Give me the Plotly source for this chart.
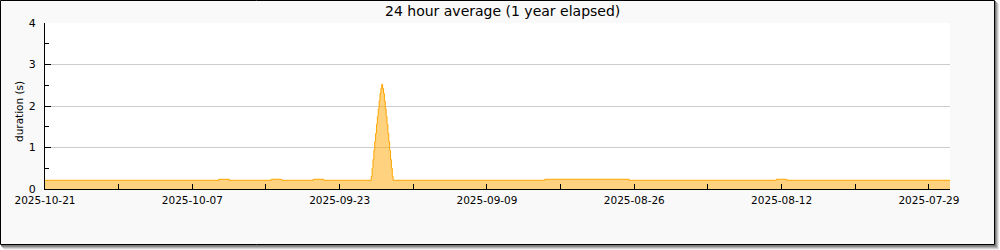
import plotly.graph_objects as go

# ---- data ----
times = [
    "2025-07-26 00:00",
    "2025-08-11 12:00", "2025-08-12 12:00",
    "2025-08-26 12:00", "2025-09-03 12:00",
    "2025-09-17 22:00", "2025-09-18 00:00", "2025-09-18 02:00", "2025-09-18 04:00",
    "2025-09-18 06:00", "2025-09-18 08:00", "2025-09-18 10:00", "2025-09-18 12:00",
    "2025-09-18 14:00", "2025-09-18 16:00", "2025-09-18 18:00", "2025-09-18 20:00",
    "2025-09-18 22:00",
    "2025-09-19 00:00", "2025-09-19 02:00", "2025-09-19 04:00", "2025-09-19 06:00",
    "2025-09-19 08:00", "2025-09-19 10:00", "2025-09-19 12:00", "2025-09-19 14:00",
    "2025-09-19 16:00", "2025-09-19 18:00", "2025-09-19 20:00", "2025-09-19 22:00",
    "2025-09-20 00:00",
    "2025-09-24 12:00", "2025-09-25 12:00",
    "2025-09-28 12:00", "2025-09-29 12:00",
    "2025-10-03 12:00", "2025-10-04 12:00",
    "2025-10-21 12:00",
]
durations = [
    0.21,
    0.235, 0.21,
    0.235, 0.21,
    0.30, 0.50, 0.71, 0.93,
    1.14, 1.34, 1.56, 1.75,
    1.93, 2.12, 2.30, 2.42,
    2.52,
    2.42, 2.30, 2.12, 1.93,
    1.75, 1.56, 1.34, 1.14,
    0.93, 0.71, 0.50, 0.30,
    0.21,
    0.235, 0.21,
    0.235, 0.21,
    0.235, 0.21,
    0.21,
]
x_range = ["2025-10-21", "2025-07-27"]
y_range = [0, 4]
title_text = "24 hour average (1 year elapsed)"
y_title = "duration (s)"

W, H = 1000, 250
ML, MR, MT, MB = 45, 50, 23, 61
PW, PH = W - ML - MR, H - MT - MB


def px_x(p):
    return (p - ML) / PW


def px_y(p):
    return (H - MB - p) / PH


DAY = 86400000
font = "DejaVu Sans"

fig = go.Figure()
fig.add_trace(go.Scatter(
    x=times, y=durations, mode="lines",
    line=dict(shape="hv", color="#ffa500", width=1),
    fill="tozeroy", fillcolor="rgba(255,165,0,0.5)",
    hoverinfo="skip", showlegend=False,
))

shapes = []
# shadow
for k, col in [(4, "#e4e4e4"), (3, "#c4c4c4"), (2, "#a0a0a0"), (1, "#7a7a7a")]:
    shapes.append(dict(type="rect", xref="paper", yref="paper", layer="below",
                       x0=px_x(k), x1=px_x(995 + k), y0=px_y(k), y1=px_y(245.5 + k),
                       fillcolor=col, line=dict(width=0)))
# frame
shapes.append(dict(type="rect", xref="paper", yref="paper", layer="below",
                   x0=px_x(0.5), x1=px_x(994.5), y0=px_y(0.5), y1=px_y(244.5),
                   fillcolor="#f9f9f9", line=dict(color="black", width=1)))
# plot area background
shapes.append(dict(type="rect", xref="paper", yref="paper", layer="below",
                   x0=0, x1=1, y0=0, y1=1, fillcolor="white", line=dict(width=0)))

annotations = [
    dict(text=title_text, xref="paper", yref="paper", x=px_x(502), y=px_y(11),
         xanchor="center", yanchor="middle", showarrow=False,
         font=dict(family=font, size=14, color="black")),
    dict(text=y_title, xref="paper", yref="paper", x=px_x(19), y=px_y(112),
         xanchor="center", yanchor="middle", showarrow=False, textangle=-90,
         font=dict(family=font, size=10.5, color="black")),
]

fig.update_layout(
    width=W, height=H,
    margin=dict(l=ML, r=MR, t=MT, b=MB, pad=0),
    paper_bgcolor="white", plot_bgcolor="white",
    font=dict(family=font, size=10, color="black"),
    shapes=shapes, annotations=annotations,
    showlegend=False,
)
fig.update_xaxes(
    type="date", range=x_range, tick0="2025-10-21", dtick=14 * DAY,
    tickformat="%Y-%m-%d", showgrid=False, zeroline=False,
    showline=True, linecolor="black", linewidth=1,
    ticks="inside", ticklen=5, tickcolor="black", tickwidth=1,
    minor=dict(ticks="inside", ticklen=5, dtick=7 * DAY, tick0="2025-10-21",
               tickcolor="black", showgrid=False),
    tickfont=dict(family=font, size=10.5, color="black"),
    ticklabelstandoff=1,
    layer="above traces", fixedrange=True,
)
fig.update_yaxes(
    range=y_range, dtick=1, tick0=0, showgrid=True, gridcolor="#cccccc", gridwidth=1,
    zeroline=False, showline=True, linecolor="black", linewidth=1,
    ticks="inside", ticklen=6, tickcolor="black", tickwidth=1,
    minor=dict(ticks="inside", ticklen=4, dtick=0.5, tickcolor="black", showgrid=False),
    tickfont=dict(family=font, size=11, color="black"),
    ticklabelstandoff=6,
    layer="above traces", fixedrange=True,
)

fig.write_html("out.html", config={"displayModeBar": False})
